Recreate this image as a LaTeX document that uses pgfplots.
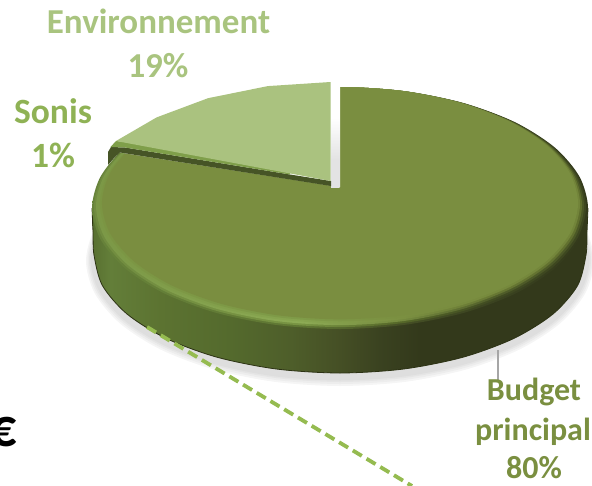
\documentclass[border=0pt]{standalone}
\usepackage{pgfplots}
\usepackage{pgfplotstable}
\usepackage{fontspec}
\setmainfont{Carlito}
\pgfplotsset{compat=1.18}

% colours
\definecolor{flat}{HTML}{7A8E40}
\definecolor{envc}{HTML}{AAC27F}
\definecolor{sonc}{HTML}{7F9F4A}
\definecolor{wall}{HTML}{465426}
\definecolor{edgec}{HTML}{2C3214}
\definecolor{lEnv}{HTML}{A9C47F}
\definecolor{lSon}{HTML}{8FB255}
\definecolor{lBud}{HTML}{7A8F40}
\definecolor{dash}{HTML}{95BB50}
\definecolor{lead}{HTML}{A6A6A6}

\definecolor{b1}{HTML}{587030}\definecolor{b2}{HTML}{637E39}\definecolor{b3}{HTML}{5C7331}
\definecolor{b4}{HTML}{546A2D}\definecolor{b5}{HTML}{4E5E2A}\definecolor{b6}{HTML}{454F25}
\definecolor{b7}{HTML}{3A4220}\definecolor{b8}{HTML}{33391B}
\pgfdeclarehorizontalshading{bodygrad}{100bp}{color(0bp)=(b1); color(25bp)=(b1); color(26.8bp)=(b2); color(31.9bp)=(b3); color(38.9bp)=(b4); color(45bp)=(b5); color(50bp)=(b6); color(54bp)=(b7); color(58bp)=(b8); color(100bp)=(b8)}

\definecolor{ra1}{HTML}{67833A}\definecolor{ra2}{HTML}{5F7633}\definecolor{ra3}{HTML}{454F25}\definecolor{ra4}{HTML}{3A4220}\definecolor{ra5}{HTML}{33391B}
\definecolor{rb1}{HTML}{718C40}\definecolor{rb2}{HTML}{789443}\definecolor{rb3}{HTML}{566829}\definecolor{rb4}{HTML}{3F4921}\definecolor{rb5}{HTML}{3D4620}
\definecolor{rc1}{HTML}{7B9847}\definecolor{rc2}{HTML}{8DAB55}\definecolor{rc3}{HTML}{768B3F}\definecolor{rc4}{HTML}{4F5C29}\definecolor{rc5}{HTML}{4B5726}
\definecolor{rd1}{HTML}{7C9846}\definecolor{rd2}{HTML}{87A54F}\definecolor{rd3}{HTML}{7C9142}\definecolor{rd4}{HTML}{677733}\definecolor{rd5}{HTML}{606F2E}
\definecolor{re1}{HTML}{7B9543}\definecolor{re2}{HTML}{7F9B48}\definecolor{re3}{HTML}{7B9041}\definecolor{re4}{HTML}{778A3D}\definecolor{re5}{HTML}{72843A}
\newcommand\rimshade[1]{\pgfdeclarehorizontalshading{rim#1}{100bp}{color(0bp)=(r#11); color(25bp)=(r#11); color(46bp)=(r#12); color(56bp)=(r#13); color(66bp)=(r#14); color(75bp)=(r#15); color(100bp)=(r#15)}}
\rimshade{a}\rimshade{b}\rimshade{c}\rimshade{d}\rimshade{e}
\pgfdeclareverticalshading{gapgrad}{100bp}{color(0bp)=(black!11); color(45bp)=(black!11); color(75bp)=(white); color(100bp)=(white)}

% outline of the pie's top face, in picture pixels
\pgfplotstableread{
x y
588 208
579.5 239.3
554.8 268.5
515.4 293.6
464 312.8
404.2 324.9
340 329
275.8 324.9
216 312.8
164.6 293.6
125.2 268.5
100.5 239.3
92 208
100.5 176.7
125.2 147.5
164.6 122.4
216 103.2
275.8 91.1
340 87
404.2 91.1
464 103.2
515.4 122.4
554.8 147.5
579.5 176.7
}\topface

% shadow: half axes a, b, centre height cy
\newcommand\shadowlayer[4]{\addplot[fill=#4,draw=none,smooth cycle] table[x expr={340+(\thisrow{x}-340)*#1/248},y expr={#3+(\thisrow{y}-208)*#2/121}] {\topface};}
% rim layer: scale s about the top point of the face
\newcommand\rimlayer[2]{\addplot[#2,draw=none,smooth cycle] table[x expr={340+(\thisrow{x}-340)*#1},y expr={87+(\thisrow{y}-87)*#1}] {\topface};}
\newcommand\lab[5]{\node[anchor=base,inner sep=0pt,text=#4,font=\fontsize{#5}{#5}\selectfont\bfseries] at (axis cs:#1,#2) {#3};}

\begin{document}
\begin{tikzpicture}
\useasboundingbox (0,0) rectangle (592pt,485pt);
\begin{axis}[at={(0,0)},anchor=south west,scale only axis,width=592pt,height=485pt,
  xmin=0,xmax=592,ymin=0,ymax=485,y dir=reverse,hide axis,clip=true]
% shadow
\shadowlayer{254}{125}{261}{black!4}
\shadowlayer{252.5}{123.5}{260.5}{black!7}
\shadowlayer{251}{122}{260}{black!10}
\shadowlayer{249.5}{121}{259.5}{black!13}
% body
\addplot[shading=bodygrad,draw=edgec,line width=0.8pt,smooth] coordinates {
(92,208)(93,232)(94,255)(102.4,285.5)(127,314)(166.1,338.4)(217,357.2)(276.3,369)(340,373)
(403.7,369)(463,357.2)(513.9,338.4)(553,314)(577.6,285.5)(586,255)(587,232)(588,208)};
% rim and top face
\rimlayer{1}{shading=rima}
\rimlayer{0.992}{shading=rimb}
\rimlayer{0.984}{shading=rimc}
\rimlayer{0.976}{shading=rimd}
\rimlayer{0.968}{shading=rime}
\rimlayer{0.96}{fill=flat}
% wedge removed from the main slice
\addplot[fill=white,draw=none] coordinates {(340,187)(120,152.5)(80,146)(80,60)(340,60)} --cycle;
% shadow in the gap
\addplot[shading=gapgrad,draw=none] coordinates {(331,118)(339.7,118)(339.7,187)(331,187)} --cycle;
% inner wall
\addplot[fill=wall,draw=none] coordinates {(108,165)(108,152)(111,147)(125,147.5)(290,174.5)(331,181)(331,186)(120,152.5)(115,157)(111,161.5)} --cycle;
% Sonis
\addplot[fill=sonc,draw=none] coordinates {(110.5,147)(116,141)(135,143)(290,172)(290,174.5)(125,147.5)} --cycle;
% Environnement
\addplot[fill=envc,draw=none] coordinates {(330.5,82)(267.8,86.1)(208,98.2)(156.6,117.4)(116,141)(330.5,181)} --cycle;
% dashed line
\addplot[draw=dash,line width=3.8pt,dash pattern=on 10.5pt off 5.5pt] coordinates {(147,327)(412,486)};
% leader
\addplot[draw=lead,line width=1.4pt] coordinates {(498,350)(498,381)};
% labels
\lab{158.5}{33}{Environnement}{lEnv}{35}
\lab{158}{77}{19\%}{lEnv}{35}
\lab{53}{123}{Sonis}{lSon}{35.5}
\lab{53}{167}{1\%}{lSon}{35.5}
\lab{534}{400}{Budget}{lBud}{32}
\lab{533}{440}{principal}{lBud}{32}
\lab{534}{478}{80\%}{lBud}{32}
\lab{3}{446}{€}{black}{54}
\end{axis}
\end{tikzpicture}
\end{document}
